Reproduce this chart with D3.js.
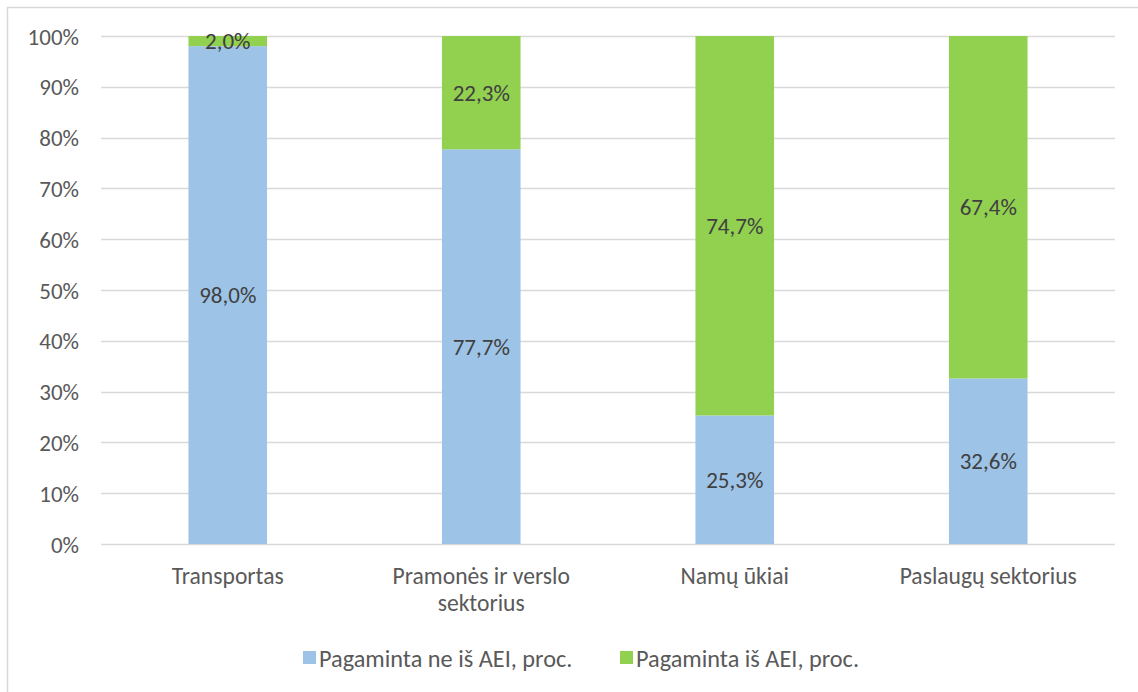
<!DOCTYPE html>
<html><head><meta charset="utf-8">
<script src="https://cdn.jsdelivr.net/npm/d3@7"></script>
<style>html,body{margin:0;padding:0;background:#fff;}svg{display:block;}text{font-family:Carlito,"Open Sans","Liberation Sans",sans-serif;}</style>
</head><body>
<svg id="c" width="1138" height="692"></svg>
<script>
(function(){
const categories = [["Transportas"], ["Pramonės ir verslo", "sektorius"], ["Namų ūkiai"], ["Paslaugų sektorius"]];
const nonRes = [98.0, 77.7, 25.3, 32.6];
const res = [2.0, 22.3, 74.7, 67.4];
const seriesNames = ["Pagaminta ne iš AEI, proc.", "Pagaminta iš AEI, proc."];
const colors = ["#9dc3e6", "#92d050"];
const yTicks = [0,10,20,30,40,50,60,70,80,90,100];
const FS = 23;

const svg = d3.select("#c");
svg.append("rect").attr("x",7.5).attr("y",7.5).attr("width",1200).attr("height",800)
  .attr("fill","none").attr("stroke","#d9d9d9").attr("stroke-width",1.5);

const pL=101, pR=1115, pT=36, pB=544;
const x = d3.scaleBand().domain(d3.range(categories.length)).range([pL,pR]).paddingInner(0.69).paddingOuter(0.345);
const y = d3.scaleLinear().domain([0,100]).range([pB,pT]);

svg.append("g").selectAll("line").data(yTicks).join("line")
  .attr("x1",pL).attr("x2",pR).attr("y1",d=>Math.round(y(d))+0.5).attr("y2",d=>Math.round(y(d))+0.5)
  .attr("stroke","#d9d9d9").attr("stroke-width",1.3);

const yAxis = d3.axisLeft(y).tickValues(yTicks).tickFormat(d=>d+"%").tickSize(0).tickPadding(0);
const ga = svg.append("g").attr("transform",`translate(${pL-22},0)`).call(yAxis);
ga.select(".domain").remove();
ga.selectAll("text").attr("font-size",FS).attr("fill","#595959").attr("dy","0.35em").style("font-family",'Carlito,"Open Sans","Liberation Sans",sans-serif');

const stack = categories.map((c,i)=>[{s:0,y0:0,y1:nonRes[i],v:nonRes[i],i},{s:1,y0:nonRes[i],y1:nonRes[i]+res[i],v:res[i],i}]).flat();

svg.append("g").selectAll("rect").data(stack).join("rect")
  .attr("x",d=>x(d.i)).attr("width",x.bandwidth())
  .attr("y",d=>y(Math.min(d.y1,100))).attr("height",d=>y(d.y0)-y(Math.min(d.y1,100)))
  .attr("fill",d=>colors[d.s]);

svg.append("g").selectAll("text").data(stack).join("text")
  .attr("x",d=>x(d.i)+x.bandwidth()/2).attr("y",d=>y((d.y0+Math.min(d.y1,100))/2))
  .attr("dy","0.35em").attr("text-anchor","middle").attr("font-size",FS).attr("fill","#404040")
  .text(d=>d.v.toFixed(1).replace(".",",")+"%");

const cat = svg.append("g").selectAll("text").data(categories).join("text")
  .attr("x",(d,i)=>x(i)+x.bandwidth()/2).attr("y",584).attr("text-anchor","middle")
  .attr("font-size",23.6).attr("fill","#595959");
cat.selectAll("tspan").data(d=>d).join("tspan")
  .attr("x",function(){return this.parentNode.getAttribute("x");})
  .attr("dy",(d,j)=>j===0?0:27).text(d=>d);

const leg = [{n:seriesNames[0],c:colors[0],x:303},{n:seriesNames[1],c:colors[1],x:620}];
const lg = svg.append("g").selectAll("g").data(leg).join("g").attr("transform",d=>`translate(${d.x},658)`);
lg.append("rect").attr("x",0).attr("y",-7).attr("width",13).attr("height",13).attr("fill",d=>d.c);
lg.append("text").attr("x",16).attr("y",0).attr("dy","0.35em").attr("font-size",24.3).attr("fill","#595959").text(d=>d.n);
})();
</script>
</body></html>
